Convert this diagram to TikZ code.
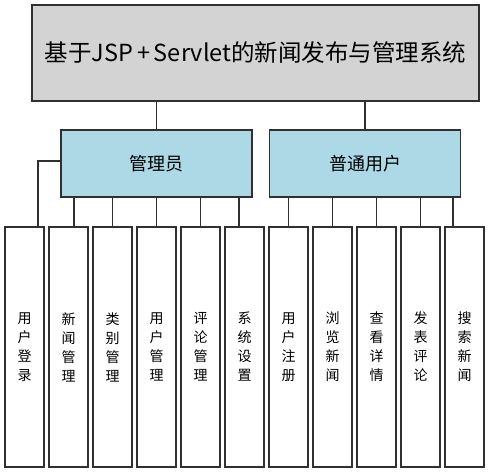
\documentclass[tikz,border=0pt]{standalone}
\usepackage{fontspec}
\setmainfont{Noto Sans CJK SC}
\usetikzlibrary{positioning,calc}
\definecolor{titlegray}{HTML}{D3D3D3}
\definecolor{rolecyan}{HTML}{ADD8E6}
\definecolor{edge}{HTML}{303030}

\begin{document}
\begin{tikzpicture}[x=1pt,y=-1pt,
	box/.style={draw=edge, line width=1.2pt, inner sep=0pt},
	title/.style={box, fill=titlegray, minimum width=447pt, minimum height=96pt, font=\fontsize{23.5}{27}\selectfont},
	role/.style={box, fill=rolecyan, minimum width=191pt, minimum height=67pt, font=\fontsize{18}{21}\selectfont},
	func/.style={box, fill=white, minimum width=39pt, minimum height=240pt, font=\fontsize{14}{19}\selectfont, align=center},
	link/.style={draw=edge, line width=1.2pt}]
	\useasboundingbox (0,0) rectangle (489,473);
	
	\node[title](sys) at (255.5,53) {基于JSP\,+\,Servlet的新闻发布与管理系统};
	
	\node[role](admin) at (156.5,163.5) {管理员};
	\node[role](user) at (365,163.5) {普通用户};
	
	\foreach \t [count=\i] in {{用\\户\\登\\录},{新\\闻\\管\\理},{类\\别\\管\\理},{用\\户\\管\\理},{评\\论\\管\\理},{系\\统\\设\\置},{用\\户\\注\\册},{浏\\览\\新\\闻},{查\\看\\详\\情},{发\\表\\评\\论},{搜\\索\\新\\闻}}
		\node[func](f\i) at (24.5+44*\i-44,347) {\t};
	
	%% top level
	\draw[link] (admin.north) -- (admin.north |- sys.south);
	\draw[link] (user.north) -- (user.north |- sys.south);
	
	%% admin functions
	\draw[link] ([yshift=2.5pt]admin.west) -| ([xshift=13.5pt]f1.north);
	\foreach \i/\dx in {2/5.5, 3/0, 4/0, 5/0, 6/-5.5}
		\draw[link] ([xshift=\dx pt]f\i.north) -- ([xshift=\dx pt]f\i.north |- admin.south);
	
	%% user functions
	\foreach \i/\dx in {7/0, 8/0, 9/0, 10/0, 11/-11.5}
		\draw[link] ([xshift=\dx pt]f\i.north) -- ([xshift=\dx pt]f\i.north |- user.south);
\end{tikzpicture}
\end{document}
